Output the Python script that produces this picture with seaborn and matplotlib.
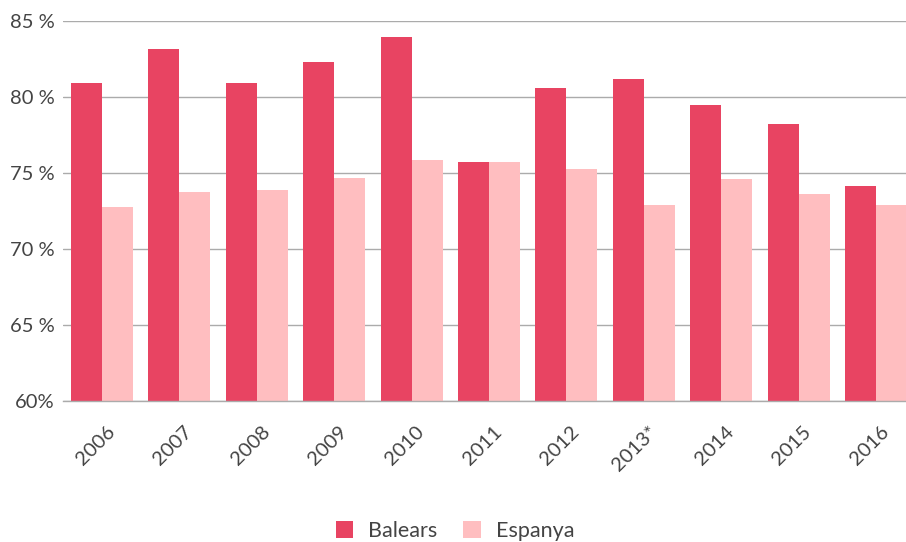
import matplotlib
matplotlib.use("Agg")
import matplotlib.pyplot as plt
import matplotlib.transforms as mtransforms
import pandas as pd
import seaborn as sns

# Values (percent)
years = ["2006", "2007", "2008", "2009", "2010", "2011", "2012", "2013*", "2014", "2015", "2016"]
balears = [80.9, 83.15, 80.9, 82.3, 83.95, 75.7, 80.6, 81.2, 79.5, 78.2, 74.15]
espanya = [72.75, 73.75, 73.9, 74.7, 75.85, 75.7, 75.25, 72.9, 74.6, 73.6, 72.9]
series = ["Balears", "Espanya"]
colors = ["#E84462", "#FFBEC0"]
yticks = [60, 65, 70, 75, 80, 85]
ytick_labels = ["60%", "65 %", "70 %", "75 %", "80 %", "85 %"]

df = pd.DataFrame({
    "year": years * 2,
    "value": balears + espanya,
    "serie": [series[0]] * len(years) + [series[1]] * len(years),
})

sns.set_theme(style="white")
plt.rcParams["font.family"] = ["Lato", "DejaVu Sans"]
text_color = "#444444"

W, H = 906, 542
fig = plt.figure(figsize=(W / 100, H / 100), dpi=100)
left, bottom, top = 63.3, 401, 21
ax = fig.add_axes([left / W, 1 - bottom / H, (W - left) / W, (bottom - top) / H])

sns.barplot(data=df, x="year", y="value", hue="serie", palette=colors,
            width=0.8, linewidth=0, saturation=1, ax=ax, zorder=3)

ax.set_ylim(60, 85)
ax.set_xlim(-0.5, (W - left) / 77.4 - 0.5)
ax.set_yticks(yticks)
ax.set_yticklabels(ytick_labels)
ax.yaxis.grid(True, color="#ababab", linewidth=1.0, zorder=0)
ax.set_axisbelow(True)
for side in ["top", "right", "left"]:
    ax.spines[side].set_visible(False)
ax.spines["bottom"].set_color("#ababab")
ax.spines["bottom"].set_linewidth(1.0)
ax.spines["bottom"].set_zorder(4)

ax.set_xlabel("")
ax.set_ylabel("")
ax.tick_params(axis="y", length=0, pad=6, labelsize=14.5, labelcolor=text_color)
ax.tick_params(axis="x", length=0, pad=23, labelsize=14.5, labelcolor=text_color)
ax.set_xticks(range(len(years)))
ax.set_xticklabels(years, rotation=45, ha="right", va="baseline", rotation_mode="anchor")
shift = mtransforms.ScaledTranslation(14 / 100, 0, fig.dpi_scale_trans)
for lab in ax.get_xticklabels():
    lab.set_transform(lab.get_transform() + shift)

ax.legend(loc="center", bbox_to_anchor=(455 / W, 1 - 531 / H), bbox_transform=fig.transFigure,
          ncol=2, frameon=False, fontsize=15.5, handlelength=0.8, handleheight=0.8,
          handletextpad=0.7, columnspacing=1.2, labelcolor=text_color)

fig.savefig("out.png", dpi=100)
